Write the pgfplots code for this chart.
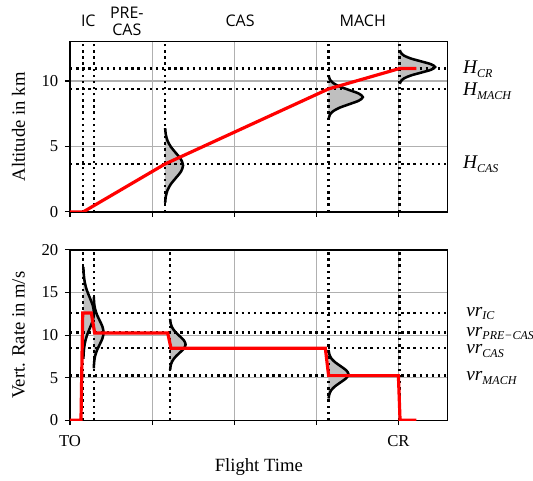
\documentclass[border=0pt]{standalone}
\usepackage{fontspec}
\setmainfont{Liberation Serif}
\newfontfamily\phasefont{Open Sans}
\usepackage{pgfplots}
\pgfplotsset{compat=1.18}
\definecolor{gridgray}{RGB}{176,176,176}
\definecolor{fillgray}{RGB}{191,191,191}
\pgfplotsset{
  myaxis/.style={
    scale only axis, width=283.3pt, height=127.7pt,
    xmin=0, xmax=4.6, xtick={0,1,2,3,4},
    grid=major, major grid style={gridgray, line width=0.8pt},
    axis line style={line width=1pt},
    tick style={black, line width=0.8pt},
    tick align=outside, major tick length=3.75pt,
    tick pos=left,
    clip mode=individual,
    /pgf/number format/assume math mode=true,
    tick label style={font=\fontsize{12.5}{14}\selectfont},
    yticklabel style={xshift=-1.5pt},
    xticklabel style={yshift=-4.5pt},
    every axis y label/.style={at={(axis description cs:-0.1363,0.5)}, rotate=90, anchor=center, font=\fontsize{14}{16}\selectfont},
    every axis x label/.style={at={(axis description cs:0.5,-0.274)}, anchor=center, font=\fontsize{14}{16}\selectfont},
  },
  dotl/.style={black, line width=1.8pt, dash pattern=on 1.8pt off 2.8pt},
  redl/.style={red, line width=2.4pt},
  gauss/.style={black, line width=1.9pt, smooth},
  gfill/.style={fill=fillgray, draw=none, smooth},
}
\tikzset{plab/.style={font=\phasefont\fontsize{12}{13}\selectfont, anchor=center, yshift=15.5pt, align=center}}
\newcommand{\sublab}[2]{{\fontsize{14.5}{16}\selectfont\itshape #1\raisebox{-2.75pt}{\fontsize{9}{10}\selectfont #2}}}
\begin{document}
\begin{tikzpicture}
\useasboundingbox (-52.5pt,-45.2pt) rectangle (347.3pt,315.2pt);
% ---------------- top axis ----------------
\begin{axis}[myaxis, at={(0pt,156.2pt)}, anchor=south west,
  ymin=0, ymax=13, ytick={0,5,10}, xticklabels={}, ylabel={Altitude in km}]
% CAS gaussian
\addplot[gfill] coordinates {(1.157,0.70) (1.159,0.70) (1.167,1.175) (1.187,1.65) (1.228,2.125) (1.290,2.60) (1.351,3.075) (1.377,3.55) (1.351,4.025) (1.290,4.50) (1.228,4.975) (1.187,5.45) (1.167,5.925) (1.159,6.40) (1.157,6.40)} -- cycle;
\addplot[gauss] coordinates {(1.159,0.70) (1.167,1.175) (1.187,1.65) (1.228,2.125) (1.290,2.60) (1.351,3.075) (1.377,3.55) (1.351,4.025) (1.290,4.50) (1.228,4.975) (1.187,5.45) (1.167,5.925) (1.159,6.40)};
% MACH gaussian
\addplot[gfill] coordinates {(3.147,7.15) (3.152,7.15) (3.165,7.42) (3.204,7.69) (3.283,7.96) (3.402,8.23) (3.518,8.50) (3.567,8.77) (3.518,9.04) (3.402,9.31) (3.283,9.58) (3.204,9.85) (3.165,10.12) (3.152,10.39) (3.147,10.39)} -- cycle;
\addplot[gauss] coordinates {(3.152,7.15) (3.165,7.42) (3.204,7.69) (3.283,7.96) (3.402,8.23) (3.518,8.50) (3.567,8.77) (3.518,9.04) (3.402,9.31) (3.283,9.58) (3.204,9.85) (3.165,10.12) (3.152,10.39)};
% CR gaussian
\addplot[gfill] coordinates {(4.012,9.78) (4.017,9.78) (4.031,9.995) (4.071,10.21) (4.153,10.425) (4.276,10.64) (4.396,10.855) (4.447,11.07) (4.396,11.285) (4.276,11.50) (4.153,11.715) (4.071,11.93) (4.031,12.145) (4.017,12.36) (4.012,12.36)} -- cycle;
\addplot[gauss] coordinates {(4.017,9.78) (4.031,9.995) (4.071,10.21) (4.153,10.425) (4.276,10.64) (4.396,10.855) (4.447,11.07) (4.396,11.285) (4.276,11.50) (4.153,11.715) (4.071,11.93) (4.031,12.145) (4.017,12.36)};
% dotted reference lines
\addplot[dotl] coordinates {(0,0) (4.6,0)};
\addplot[dotl] coordinates {(0,3.66) (4.6,3.66)};
\addplot[dotl] coordinates {(0,9.39) (4.6,9.39)};
\addplot[dotl] coordinates {(0,10.95) (4.6,10.95)};
\addplot[dotl] coordinates {(0.162,0) (0.162,13)};
\addplot[dotl] coordinates {(0.289,0) (0.289,13)};
\addplot[dotl] coordinates {(1.157,0) (1.157,13)};
\addplot[dotl] coordinates {(3.147,0) (3.147,13)};
\addplot[dotl] coordinates {(4.012,0) (4.012,13)};
% altitude profile
\addplot[redl] coordinates {(0,0) (0.16,0) (1.157,3.66) (3.147,9.39) (4.012,10.95) (4.22,10.95)};
% labels
\node[anchor=west, xshift=8pt] at (axis cs:4.6,10.92) {\sublab{H}{CR}};
\node[anchor=west, xshift=8pt] at (axis cs:4.6,9.21) {\sublab{H}{MACH}};
\node[anchor=west, xshift=8pt] at (axis cs:4.6,3.66) {\sublab{H}{CAS}};
\node[plab] at (axis cs:0.223,13) {IC};
\node[plab] at (axis cs:0.692,13) {PRE-\\CAS};
\node[plab] at (axis cs:2.071,13) {CAS};
\node[plab] at (axis cs:3.566,13) {MACH};
\end{axis}
% ---------------- bottom axis ----------------
\begin{axis}[myaxis, at={(0pt,0pt)}, anchor=south west,
  ymin=0, ymax=20, ytick={0,5,10,15,20}, xticklabels={TO,,,,CR},
  ylabel={Vert. Rate in m/s}, xlabel={Flight Time}]
% IC gaussian
\addplot[gfill] coordinates {(0.162,7.2) (0.163,7.2) (0.168,8.1) (0.180,9.0) (0.204,9.9) (0.241,10.8) (0.277,11.7) (0.292,12.6) (0.277,13.5) (0.241,14.4) (0.204,15.3) (0.180,16.2) (0.168,17.1) (0.163,18.0) (0.162,18.0)} -- cycle;
% PRE-CAS gaussian
\addplot[gfill] coordinates {(0.289,6.1) (0.290,6.1) (0.294,6.8) (0.305,7.5) (0.328,8.2) (0.362,8.9) (0.395,9.6) (0.409,10.3) (0.395,11.0) (0.362,11.7) (0.328,12.4) (0.305,13.1) (0.294,13.8) (0.290,14.5) (0.289,14.5)} -- cycle;
\addplot[gauss] coordinates {(0.163,7.2) (0.168,8.1) (0.180,9.0) (0.204,9.9) (0.241,10.8) (0.277,11.7) (0.292,12.6) (0.277,13.5) (0.241,14.4) (0.204,15.3) (0.180,16.2) (0.168,17.1) (0.163,18.0)};
\addplot[gauss] coordinates {(0.290,6.1) (0.294,6.8) (0.305,7.5) (0.328,8.2) (0.362,8.9) (0.395,9.6) (0.409,10.3) (0.395,11.0) (0.362,11.7) (0.328,12.4) (0.305,13.1) (0.294,13.8) (0.290,14.5)};
% CAS gaussian
\addplot[gfill] coordinates {(1.218,5.9) (1.220,5.9) (1.226,6.4) (1.244,6.9) (1.280,7.4) (1.333,7.9) (1.386,8.4) (1.408,8.9) (1.386,9.4) (1.333,9.9) (1.280,10.4) (1.244,10.9) (1.226,11.4) (1.220,11.9) (1.218,11.9)} -- cycle;
\addplot[gauss] coordinates {(1.220,5.9) (1.226,6.4) (1.244,6.9) (1.280,7.4) (1.333,7.9) (1.386,8.4) (1.408,8.9) (1.386,9.4) (1.333,9.9) (1.280,10.4) (1.244,10.9) (1.226,11.4) (1.220,11.9)};
% MACH gaussian
\addplot[gfill] coordinates {(3.147,2.55) (3.150,2.55) (3.158,3.025) (3.180,3.5) (3.227,3.975) (3.296,4.45) (3.363,4.925) (3.392,5.4) (3.363,5.875) (3.296,6.35) (3.227,6.825) (3.180,7.3) (3.158,7.775) (3.150,8.25) (3.147,8.25)} -- cycle;
\addplot[gauss] coordinates {(3.150,2.55) (3.158,3.025) (3.180,3.5) (3.227,3.975) (3.296,4.45) (3.363,4.925) (3.392,5.4) (3.363,5.875) (3.296,6.35) (3.227,6.825) (3.180,7.3) (3.158,7.775) (3.150,8.25)};
% dotted reference lines
\addplot[dotl] coordinates {(0,12.6) (4.6,12.6)};
\addplot[dotl] coordinates {(0,10.3) (4.6,10.3)};
\addplot[dotl] coordinates {(0,8.46) (4.6,8.46)};
\addplot[dotl] coordinates {(0,5.24) (4.6,5.24)};
\addplot[dotl] coordinates {(0.162,0) (0.162,20)};
\addplot[dotl] coordinates {(0.289,0) (0.289,20)};
\addplot[dotl] coordinates {(1.218,0) (1.218,20)};
\addplot[dotl] coordinates {(3.147,0) (3.147,20)};
\addplot[dotl] coordinates {(4.012,0) (4.012,20)};
% vertical rate profile
\addplot[redl] coordinates {(0,0) (0.134,0) (0.155,12.6) (0.26,12.6) (0.30,10.25) (1.19,10.25) (1.23,8.46) (3.11,8.46) (3.15,5.24) (4.0,5.24) (4.02,0) (4.22,0)};
% labels
\node[anchor=west, xshift=10.5pt] at (axis cs:4.6,12.53) {\sublab{vr}{IC}};
\node[anchor=west, xshift=10.5pt] at (axis cs:4.6,10.2) {\sublab{vr}{PRE−CAS}};
\node[anchor=west, xshift=10.5pt] at (axis cs:4.6,8.15) {\sublab{vr}{CAS}};
\node[anchor=west, xshift=10.5pt] at (axis cs:4.6,4.95) {\sublab{vr}{MACH}};
\end{axis}
\end{tikzpicture}
\end{document}
